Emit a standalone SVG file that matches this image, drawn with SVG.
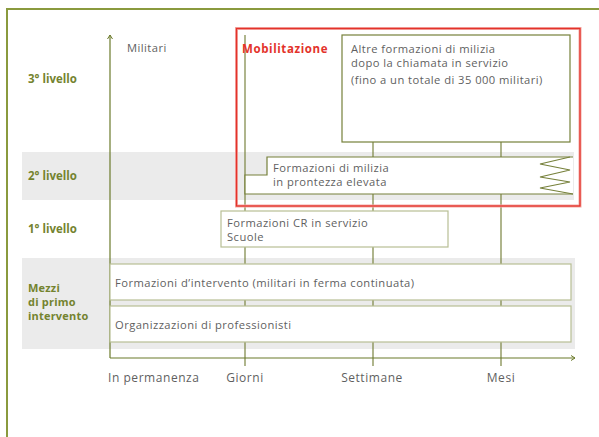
<svg xmlns="http://www.w3.org/2000/svg" width="599" height="437" viewBox="0 0 599 437">
<style>
text{font-family:"Open Sans","Liberation Sans",sans-serif;font-size:11.2px;letter-spacing:0.45px;fill:#5f5f5f}
.hd{font-weight:bold;fill:#74832f;font-size:11.5px;letter-spacing:0}
.hs{font-size:11px;letter-spacing:0.2px}
.axl{font-size:12px;letter-spacing:0.55px}
.mid{text-anchor:middle}
.band{fill:#ebebeb}
.box{fill:#fff;stroke:#b8bf94;stroke-width:1.2}
.boxd{fill:#fff;stroke:#76803a;stroke-width:1.2}
.ax{stroke:#6b7a2a;stroke-width:1.2;fill:none}
.grid{stroke:#7a8440;stroke-width:1.2}
</style>
<defs>
<marker id="arr" markerWidth="8" markerHeight="8" refX="6" refY="4" orient="auto" markerUnits="userSpaceOnUse">
<path d="M2,1.5 L6,4 L2,6.5" fill="none" stroke="#6b7a2a" stroke-width="1"/>
</marker>
</defs>
<rect width="599" height="437" fill="#fff"/>
<g id="frame">
<path d="M7,440 V9 H605" fill="none" stroke="#8a9a3e" stroke-width="2"/>
</g>
<g id="bands">
<rect class="band" x="22" y="152" width="552" height="48"/>
<rect class="band" x="22" y="258" width="553" height="91"/>
</g>
<g id="connectors">
<line class="grid" x1="245" y1="35" x2="245" y2="366"/>
<line class="grid" x1="373" y1="142" x2="373" y2="366"/>
<line class="grid" x1="501" y1="142" x2="501" y2="366"/>
<line class="ax" x1="110" y1="358" x2="110" y2="35" marker-end="url(#arr)"/>
<line class="ax" x1="110" y1="358" x2="575" y2="358" marker-end="url(#arr)"/>
</g>
<g id="labels">
<text class="hd" x="28" y="83">3° livello</text>
<text class="hd" x="28" y="180">2° livello</text>
<text class="hd" x="28" y="233">1° livello</text>
<text class="hd hs" x="28" y="292">Mezzi</text>
<text class="hd hs" x="28" y="306">di primo</text>
<text class="hd hs" x="28" y="320">intervento</text>
<text x="127" y="52">Militari</text>
<text class="axl" x="108" y="382">In permanenza</text>
<text class="axl mid" x="245" y="382">Giorni</text>
<text class="axl mid" x="372" y="382">Settimane</text>
<text class="axl mid" x="501" y="382">Mesi</text>
</g>
<g id="altre">
<rect class="boxd" x="342" y="35" width="228" height="107"/>
<text x="351" y="53">Altre formazioni di milizia</text>
<text x="351" y="67">dopo la chiamata in servizio</text>
<text x="351" y="84">(fino a un totale di 35 000 militari)</text>
</g>
<g id="milizia">
<path d="M573,157 H267 V175 H245 V194 H573" fill="#fff" stroke="#76803a" stroke-width="1.2"/>
<path d="M570,157 L540,164 L570,170 L540,177 L570,182 L540,188 L573,194" fill="none" stroke="#76803a" stroke-width="1.2"/>
<text x="273" y="172">Formazioni di milizia</text>
<text x="273" y="186">in prontezza elevata</text>
</g>
<g id="cr">
<rect class="box" x="221" y="211" width="227" height="36"/>
<text x="227" y="227">Formazioni CR in servizio</text>
<text x="227" y="241">Scuole</text>
</g>
<g id="intervento">
<rect class="box" x="110" y="264" width="461" height="36"/>
<text x="115" y="287">Formazioni d’intervento (militari in ferma continuata)</text>
</g>
<g id="professionisti">
<rect class="box" x="110" y="306" width="461" height="36"/>
<text x="115" y="329">Organizzazioni di professionisti</text>
</g>
<g id="mobilitazione">
<rect x="236.5" y="28.5" width="343.5" height="177.5" fill="none" stroke="#f4a9a4" stroke-width="3"/>
<rect x="236.5" y="28.5" width="343.5" height="177.5" fill="none" stroke="#e3322a" stroke-width="1.3"/>
<text x="242" y="53" style="font-weight:bold;fill:#e3322a;font-size:11.5px;letter-spacing:0.6px">Mobilitazione</text>
</g>
</svg>
